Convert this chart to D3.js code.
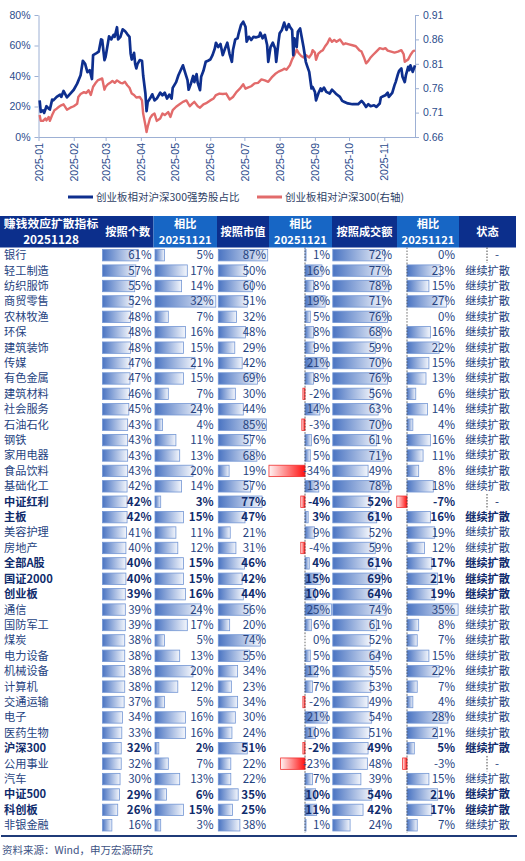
<!DOCTYPE html>
<html>
<head>
<meta charset="utf-8">
<script src="https://cdn.jsdelivr.net/npm/d3@7"></script>
<style>
  html, body { margin: 0; padding: 0; background: #fff; }
  svg { display: block; font-family: "Noto Sans CJK SC", "Noto Sans", sans-serif; }
</style>
</head>
<body>
<svg id="chart" width="525" height="861"></svg>
<script>
// ---- line chart: share of strong stocks (%) and ChiNext / CSI300 ratio (right axis)
const strongShare = [
  ["01-02",24],["01-03",16.4],["01-05",17.5],["01-06",15.8],["01-08",20.2],["01-10",18.6],["01-11",18],
  ["01-13",24.5],["01-14",24],["01-17",26.3],["01-20",27.8],["01-21",26.3],["01-23",30.2],["01-26",26],
  ["01-29",28.5],["02-01",31],["02-04",35],["02-07",40.5],["02-09",50],["02-11",48],["02-13",42.5],
  ["02-15",43.8],["02-17",38],["02-18",53.7],["02-21",55],["02-23",56],["02-25",64],["02-26",63.6],
  ["02-28",50.4],["03-01",52.6],["03-03",61.4],["03-04",66],["03-06",64],["03-08",67],["03-09",65.7],
  ["03-11",72],["03-12",64],["03-14",65.7],["03-16",70.6],["03-18",69.5],["03-20",67.5],["03-22",65.7],
  ["03-23",54.8],["03-24",50.8],["03-26",55.2],["03-27",48],["03-28",45],["03-29",47.8],["03-31",50.4],
  ["04-02",50],["04-03",40.5],["04-05",28.5],["04-06",17],["04-07",23],["04-09",25.2],["04-11",28],
  ["04-13",24],["04-15",25.2],["04-18",29],["04-20",27.4],["04-22",29],["04-24",25.2],["04-26",27.8],
  ["04-28",25.2],["04-29",32.2],["05-02",36],["05-04",40.5],["05-06",43.8],["05-08",47],["05-10",42],
  ["05-12",37.3],["05-13",31],["05-15",35],["05-17",40],["05-18",36],["05-20",41.2],["05-21",35.5],
  ["05-23",30.7],["05-24",39.5],["05-26",43.4],["05-28",49.3],["05-30",50],["06-01",50.8],["06-03",53.7],
  ["06-05",58],["06-06",61.8],["06-08",59],["06-10",61],["06-12",53.7],["06-14",58],["06-16",61.8],
  ["06-18",54.4],["06-20",49.3],["06-21",57],["06-23",64],["06-25",64.7],["06-26",68],["06-28",73.4],
  ["06-30",75.6],["07-02",72.3],["07-03",62.5],["07-05",65.7],["07-07",63.6],["07-09",65.7],["07-11",65.3],
  ["07-14",66],["07-15",68.4],["07-17",64.7],["07-19",67],["07-21",60.3],["07-22",49.3],["07-24",59],
  ["07-26",61.8],["07-28",58],["07-29",49.3],["07-31",62.5],["08-01",68],["08-03",70.2],["08-05",75],
  ["08-07",70.2],["08-09",74],["08-10",72.3],["08-12",70.2],["08-13",53.7],["08-14",64.7],["08-16",59],
  ["08-17",69],["08-19",71.2],["08-20",67],["08-22",59],["08-24",49.3],["08-25",47],["08-27",42.7],
  ["08-29",31.8],["08-30",32.8],["09-01",29.6],["09-02",24],["09-04",28.5],["09-06",31.8],["09-07",30.2],
  ["09-09",32.4],["09-11",29.6],["09-14",28.5],["09-16",31],["09-18",29.6],["09-20",28],["09-23",26.3],
  ["09-25",23.7],["09-27",23],["09-30",22],["10-04",21.5],["10-09",21.5],["10-12",23.7],["10-14",22],
  ["10-16",19.7],["10-18",21.5],["10-20",20.2],["10-23",20.8],["10-25",19.7],["10-28",22],["10-29",26],
  ["10-31",26.7],["11-02",27.4],["11-04",29],["11-05",26.3],["11-08",29],["11-10",34],["11-11",36],
  ["11-13",41.2],["11-14",43.4],["11-16",45],["11-17",39.5],["11-19",36],["11-20",40.5],["11-22",46],
  ["11-23",43.8],["11-24",47],["11-26",42.7],["11-28",47]
];

const relRatio = [
  ["01-02",0.705],["01-03",0.693],["01-05",0.693],["01-07",0.698],["01-08",0.694],["01-10",0.701],
  ["01-11",0.693],["01-13",0.705],["01-15",0.715],["01-17",0.718],["01-19",0.722],["01-21",0.725],
  ["01-23",0.727],["01-26",0.716],["01-29",0.720],["02-01",0.723],["02-04",0.728],["02-05",0.742],
  ["02-07",0.748],["02-10",0.752],["02-12",0.750],["02-14",0.756],["02-16",0.746],["02-18",0.763],
  ["02-20",0.770],["02-22",0.776],["02-24",0.778],["02-26",0.780],["02-28",0.757],["03-01",0.763],
  ["03-03",0.768],["03-05",0.771],["03-07",0.775],["03-09",0.771],["03-11",0.776],["03-14",0.771],
  ["03-16",0.770],["03-18",0.773],["03-20",0.766],["03-22",0.761],["03-24",0.749],["03-26",0.746],
  ["03-28",0.741],["03-31",0.742],["04-02",0.735],["04-03",0.708],["04-05",0.684],["04-06",0.670],
  ["04-07",0.681],["04-09",0.698],["04-11",0.705],["04-13",0.708],["04-15",0.693],["04-18",0.698],
  ["04-20",0.708],["04-22",0.705],["04-25",0.711],["04-27",0.701],["04-29",0.715],["05-02",0.722],
  ["05-05",0.727],["05-08",0.732],["05-11",0.735],["05-14",0.723],["05-16",0.728],["05-18",0.732],
  ["05-21",0.723],["05-23",0.720],["05-26",0.727],["05-29",0.730],["06-01",0.735],["06-04",0.739],
  ["06-06",0.746],["06-09",0.749],["06-12",0.748],["06-15",0.749],["06-18",0.737],["06-21",0.742],
  ["06-24",0.752],["06-27",0.759],["06-30",0.768],["07-02",0.759],["07-04",0.761],["07-07",0.764],
  ["07-10",0.770],["07-13",0.771],["07-16",0.778],["07-19",0.776],["07-22",0.773],["07-25",0.782],
  ["07-28",0.789],["07-31",0.794],["08-03",0.797],["08-05",0.800],["08-07",0.798],["08-10",0.807],
  ["08-12",0.819],["08-14",0.828],["08-16",0.839],["08-18",0.831],["08-20",0.826],["08-22",0.823],
  ["08-24",0.828],["08-27",0.823],["08-29",0.830],["08-30",0.838],["09-01",0.833],["09-02",0.818],
  ["09-04",0.831],["09-06",0.835],["09-08",0.838],["09-10",0.846],["09-12",0.852],["09-14",0.862],
  ["09-16",0.855],["09-18",0.859],["09-20",0.855],["09-23",0.860],["09-26",0.850],["09-28",0.852],
  ["10-01",0.850],["10-04",0.848],["10-07",0.846],["10-10",0.838],["10-12",0.835],["10-14",0.824],
  ["10-16",0.811],["10-18",0.816],["10-20",0.823],["10-22",0.828],["10-25",0.835],["10-28",0.842],
  ["10-31",0.840],["11-02",0.842],["11-04",0.837],["11-07",0.835],["11-10",0.833],["11-13",0.835],
  ["11-16",0.838],["11-18",0.830],["11-19",0.814],["11-22",0.819],["11-24",0.828],["11-26",0.835],
  ["11-28",0.838]
];

const leftTicks = [0, 20, 40, 60, 80];
const rightTicks = [0.66, 0.71, 0.76, 0.81, 0.86, 0.91];
const seriesNames = ["创业板相对沪深300强势股占比", "创业板相对沪深300(右轴)"];

// ---- table
const headers = ["按照个数", "相比\n20251121", "按照市值", "相比\n20251121", "按照成交额", "相比\n20251121", "状态"];
const cornerTitle = ["赚钱效应扩散指标", "20251128"];

const industries = ["银行","轻工制造","纺织服饰","商贸零售","农林牧渔","环保","建筑装饰","传媒","有色金属","建筑材料",
  "社会服务","石油石化","钢铁","家用电器","食品饮料","基础化工","中证红利","主板","美容护理","房地产",
  "全部A股","国证2000","创业板","通信","国防军工","煤炭","电力设备","机械设备","计算机","交通运输",
  "电子","医药生物","沪深300","公用事业","汽车","中证500","科创板","非银金融"];
const byCount    = [61,57,55,52,48,48,48,47,47,46,45,43,43,43,43,42,42,42,41,40,40,40,39,39,39,38,38,38,38,37,34,33,32,32,30,29,26,16];
const byCountChg = [5,17,14,32,7,16,15,21,15,7,24,4,11,13,20,14,3,15,11,12,15,15,16,24,17,5,13,20,12,5,16,16,2,7,13,6,15,3];
const byCap      = [87,50,60,51,32,48,29,42,69,30,44,85,57,68,19,57,77,47,21,31,46,42,44,56,20,74,55,34,23,34,30,24,51,22,22,35,25,38];
const byCapChg   = [1,16,8,19,5,8,9,21,8,-2,14,-3,6,5,-34,13,-4,3,9,-4,4,15,10,25,6,0,5,12,7,-2,21,10,-2,-23,7,10,11,1];
const byAmt      = [72,77,78,71,76,68,59,70,76,56,63,70,61,71,49,78,52,61,52,59,61,69,64,74,61,52,64,55,53,49,54,51,49,48,39,54,42,24];
const byAmtChg   = [0,23,15,27,0,16,22,15,13,6,14,4,16,11,8,18,-7,16,19,12,17,21,19,35,8,7,15,22,7,4,28,21,5,-3,15,21,17,7];
const statusText = industries.map(n => ["银行","中证红利","公用事业"].includes(n) ? "-" : "继续扩散");
const indexRows  = ["中证红利","主板","全部A股","国证2000","创业板","沪深300","中证500","科创板"];
const sourceNote = "资料来源：Wind，申万宏源研究";

const svg = d3.select("#chart");
const parse = d3.timeParse("%Y-%m-%d");
const toDate = s => parse("2025-" + s);

const AXIS = "#9db0d4", LABEL = "#2c4c8c";
const BLUE = "#0e2f8e", RED = "#e26b6b";

// ---------------- line chart ----------------
const x = d3.scaleTime().domain([toDate("01-01"), toDate("11-28")]).range([38.5, 415]);
const yL = d3.scaleLinear().domain([0, 80]).range([137, 15]);
const yR = d3.scaleLinear().domain([0.66, 0.91]).range([137, 15]);

const gx = svg.append("g").attr("transform", "translate(0,137)")
  .call(d3.axisBottom(x)
    .tickValues(d3.timeMonth.range(toDate("01-01"), toDate("11-02")))
    .tickFormat(d3.timeFormat("%Y-%m"))
    .tickSize(4).tickSizeOuter(0));
gx.selectAll("text")
  .attr("transform", "rotate(-90)")
  .attr("x", -6).attr("y", 0).attr("dy", "0.35em")
  .attr("text-anchor", "end");

const gl = svg.append("g").attr("transform", "translate(38.5,0)")
  .call(d3.axisLeft(yL).tickValues(leftTicks).tickFormat(d => d + "%").tickSize(4).tickSizeOuter(0));
const gr = svg.append("g").attr("transform", "translate(415,0)")
  .call(d3.axisRight(yR).tickValues(rightTicks).tickFormat(d3.format(".2f")).tickSize(4).tickSizeOuter(0));
gl.selectAll(".tick text").attr("x", -8);
gr.selectAll(".tick text").attr("x", 8);

[gx, gl, gr].forEach(g => {
  g.selectAll(".domain, .tick line").attr("stroke", AXIS);
  g.selectAll("text").attr("fill", LABEL).attr("font-size", 10.5)
    .attr("font-family", "'Liberation Sans', 'Noto Sans', sans-serif");
});

svg.append("path")
  .datum(relRatio)
  .attr("fill", "none").attr("stroke", RED).attr("stroke-width", 2.4)
  .attr("stroke-linejoin", "round")
  .attr("d", d3.line().x(d => x(toDate(d[0]))).y(d => yR(d[1])));

svg.append("path")
  .datum(strongShare)
  .attr("fill", "none").attr("stroke", BLUE).attr("stroke-width", 2.7)
  .attr("stroke-linejoin", "round")
  .attr("d", d3.line().x(d => x(toDate(d[0]))).y(d => yL(d[1])));

// legend
const legend = svg.append("g").attr("transform", "translate(0,197)");
[[68, BLUE], [257, RED]].forEach(([lx, c], i) => {
  legend.append("line").attr("x1", lx).attr("x2", lx + 25).attr("y1", 0).attr("y2", 0)
    .attr("stroke", c).attr("stroke-width", 3);
  legend.append("text").attr("x", lx + 28).attr("y", 0).attr("dy", "0.35em")
    .attr("font-size", 10.5).attr("fill", "#2f3f66").text(seriesNames[i]);
});

// ---------------- table ----------------
const colEdges = [0, 102, 153.5, 217, 269, 332, 397, 459, 516];
const headTop = 216, headBottom = 247.5, tableBottom = 833;
const NAVY = "#0c2f8c", MID = "#1766c5";

const row = d3.scaleBand().domain(industries).range([headBottom, tableBottom]);
const bh = 11.4;

const defs = svg.append("defs");
const gb = defs.append("linearGradient").attr("id", "gBlue");
gb.append("stop").attr("offset", "0%").attr("stop-color", "#4a74c2");
gb.append("stop").attr("offset", "100%").attr("stop-color", "#f3f6fc");
const gred = defs.append("linearGradient").attr("id", "gRed");
gred.append("stop").attr("offset", "0%").attr("stop-color", "#fff4f4");
gred.append("stop").attr("offset", "100%").attr("stop-color", "#ff1010");

// header cells
const head = svg.append("g");
head.append("rect").attr("x", colEdges[0]).attr("y", headTop)
  .attr("width", colEdges[1] - colEdges[0]).attr("height", headBottom - headTop).attr("fill", NAVY);
cornerTitle.forEach((t, i) => {
  head.append("text").attr("x", (colEdges[0] + colEdges[1]) / 2).attr("y", 224 + i * 16)
    .attr("dy", "0.35em").attr("text-anchor", "middle")
    .attr("fill", "#fff").attr("font-size", 11.8).attr("font-weight", 700).text(t);
});
headers.forEach((h, i) => {
  const x0 = colEdges[i + 1], x1 = colEdges[i + 2];
  head.append("rect").attr("x", x0).attr("y", headTop).attr("width", x1 - x0)
    .attr("height", headBottom - headTop).attr("fill", i % 2 === 1 && i < 6 ? MID : NAVY);
  const lines = h.split("\n");
  lines.forEach((t, j) => {
    head.append("text").attr("x", (x0 + x1) / 2)
      .attr("y", lines.length === 1 ? (headTop + headBottom) / 2 : 224 + j * 16)
      .attr("dy", "0.35em").attr("text-anchor", "middle")
      .attr("fill", "#fff").attr("font-size", 11.2).attr("font-weight", 700).text(t);
  });
});

// per-column bar settings: value array, bar origin, px per 100 pct points, text right edge
const columns = [
  { vals: byCount,    origin: 102.5, full: 58.5, right: 151.5 },
  { vals: byCountChg, origin: 155,   full: 190,  right: 213.5 },
  { vals: byCap,      origin: 218.3, full: 56.8, right: 266 },
  { vals: byCapChg,   origin: 305,   full: 106,  right: 330, axis: true },
  { vals: byAmt,      origin: 332.8, full: 72,   right: 392 },
  { vals: byAmtChg,   origin: 407,   full: 146,  right: 455, axis: true }
];

const body = svg.append("g");
industries.forEach((name, i) => {
  const cy = row(name) + row.bandwidth() / 2;
  const bold = indexRows.includes(name);
  const fill = bold ? "#0f2b6c" : "#26437f";
  const weight = bold ? 700 : 400;

  body.append("text").attr("x", 4).attr("y", cy).attr("dy", "0.35em")
    .attr("font-size", 11.2).attr("font-weight", weight).attr("fill", fill).text(name);

  columns.forEach(col => {
    const v = col.vals[i];
    const w = d3.scaleLinear().domain([0, 100]).range([0, col.full]);
    if (v !== 0) {
      body.append("rect")
        .attr("x", v > 0 ? col.origin : col.origin - w(-v))
        .attr("y", cy - bh / 2).attr("width", w(Math.abs(v))).attr("height", bh)
        .attr("fill", v > 0 ? "url(#gBlue)" : "url(#gRed)")
        .attr("stroke", v > 0 ? "#7396d4" : "#f03030").attr("stroke-width", 0.8);
    }
    if (col.axis) {
      body.append("line").attr("x1", col.origin).attr("x2", col.origin)
        .attr("y1", cy - row.bandwidth() / 2).attr("y2", cy + row.bandwidth() / 2)
        .attr("stroke", "#444").attr("stroke-width", 0.8).attr("stroke-dasharray", "1.5,1.5");
    }
    body.append("text").attr("x", col.right).attr("y", cy).attr("dy", "0.35em")
      .attr("text-anchor", "end").attr("font-size", 11.5).attr("font-weight", weight)
      .attr("fill", fill).text(v + "%");
  });

  const st = statusText[i];
  if (st === "-") {
    body.append("line").attr("x1", 487).attr("x2", 487)
      .attr("y1", cy - row.bandwidth() / 2).attr("y2", cy + row.bandwidth() / 2)
      .attr("stroke", "#333").attr("stroke-width", 0.9).attr("stroke-dasharray", "1.5,1.5");
    body.append("text").attr("x", 497).attr("y", cy).attr("dy", "0.35em")
      .attr("text-anchor", "middle").attr("font-size", 11.5).attr("fill", fill).text("-");
  } else {
    body.append("text").attr("x", 510).attr("y", cy).attr("dy", "0.35em")
      .attr("text-anchor", "end").attr("font-size", 11.2).attr("font-weight", weight)
      .attr("fill", fill).text(st);
  }
});

svg.append("line").attr("x1", 1).attr("x2", 517).attr("y1", 836).attr("y2", 836)
  .attr("stroke", "#1f3b78").attr("stroke-width", 2);

svg.append("text").attr("x", 2).attr("y", 850).attr("dy", "0.35em")
  .attr("font-size", 10.5).attr("fill", "#3d5283").text(sourceNote);
</script>
</body>
</html>
